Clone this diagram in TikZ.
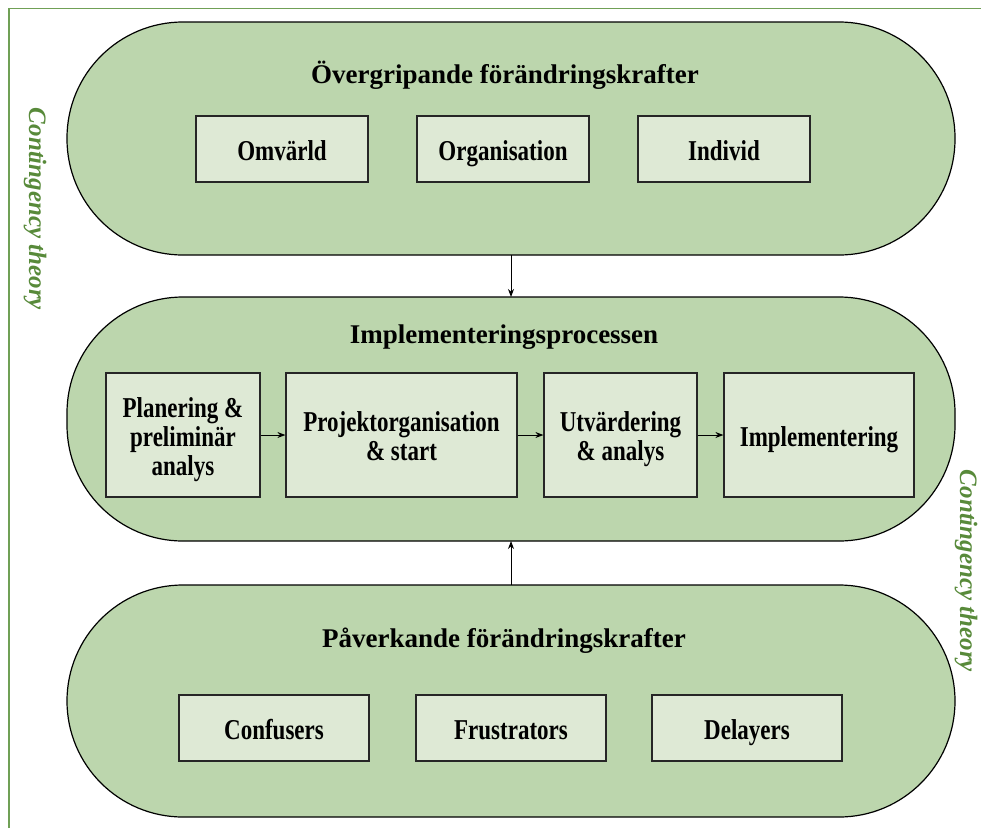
\documentclass[tikz,border=0pt]{standalone}
\usepackage{fontspec}
\usepackage{graphicx}
\setmainfont{Liberation Serif}
\usetikzlibrary{arrows.meta}
\definecolor{outerfill}{RGB}{188,214,173}
\definecolor{boxfill}{RGB}{222,233,213}
\definecolor{framegreen}{RGB}{112,160,86}
\definecolor{textgreen}{RGB}{88,138,58}
\newcommand{\bxtext}[1]{\raisebox{0pt}[\dimexpr\height+11pt\relax]{\scalebox{1}[1.25]{\begin{tabular}{@{}c@{}}#1\end{tabular}}}}
\begin{document}
\begin{tikzpicture}[x=1pt,y=-1pt,
  stadium/.style={draw=black, line width=1.2pt, fill=outerfill, rounded corners=116pt},
  inbox/.style={draw=black!85, line width=1.2pt, fill=boxfill, font=\fontsize{23}{23.2}\selectfont\bfseries, inner sep=0pt},
  title/.style={font=\fontsize{27}{30}\selectfont\bfseries},
  side/.style={font=\fontsize{25}{28}\selectfont\bfseries\itshape, text=textgreen, rotate=-90},
  conn/.style={-{Stealth[length=8pt,width=6pt]}, line width=1pt}]
\useasboundingbox (0,0) rectangle (981,828);
% frame
\draw[framegreen, line width=1.8pt] (9,828) -- (9,8.5) -- (981,8.5);
% side labels
\node[side] (ctl) at (35,209) {Contingency theory};
\node[side] (ctr) at (966,571) {Contingency theory};
% stadiums
\draw[stadium] (67,22) rectangle (955,255);
\draw[stadium] (67,297) rectangle (955,541);
\draw[stadium] (67,585) rectangle (955,817);
\coordinate (topb) at (511,255);
\coordinate (midt) at (511,297);
\coordinate (midb) at (511,541);
\coordinate (bott) at (511,585);
% titles
\node[title] (t1) at (505,75) {Övergripande förändringskrafter};
\node[title] (t2) at (504,337) {Implementeringsprocessen};
\node[title] (t3) at (504,641) {Påverkande förändringskrafter};
% top boxes
\node[inbox, minimum width=172pt, minimum height=66pt] (omv) at (282,149) {\bxtext{Omvärld}};
\node[inbox, minimum width=172pt, minimum height=66pt] (org) at (503,149) {\bxtext{Organisation}};
\node[inbox, minimum width=172pt, minimum height=66pt] (ind) at (724,149) {\bxtext{Individ}};
% middle boxes
\node[inbox, minimum width=154pt, minimum height=124pt] (pla) at (183,435) {\bxtext{Planering \&\\preliminär\\analys}};
\node[inbox, minimum width=231pt, minimum height=124pt] (pro) at (401.5,435) {\bxtext{Projektorganisation\\\& start}};
\node[inbox, minimum width=153pt, minimum height=124pt] (utv) at (620.5,435) {\bxtext{Utvärdering\\\& analys}};
\node[inbox, minimum width=190pt, minimum height=124pt] (imp) at (819,435) {\bxtext{Implementering}};
% bottom boxes
\node[inbox, minimum width=190pt, minimum height=66pt] (con) at (274,728) {\bxtext{Confusers}};
\node[inbox, minimum width=190pt, minimum height=66pt] (fru) at (511,728) {\bxtext{Frustrators}};
\node[inbox, minimum width=190pt, minimum height=66pt] (del) at (747,728) {\bxtext{Delayers}};
% arrows
\draw[conn] (pla.east) -- (pro.west);
\draw[conn] (pro.east) -- (utv.west);
\draw[conn] (utv.east) -- (imp.west);
\draw[conn] (topb) -- (midt);
\draw[conn] (bott) -- (midb);
\end{tikzpicture}
\end{document}
